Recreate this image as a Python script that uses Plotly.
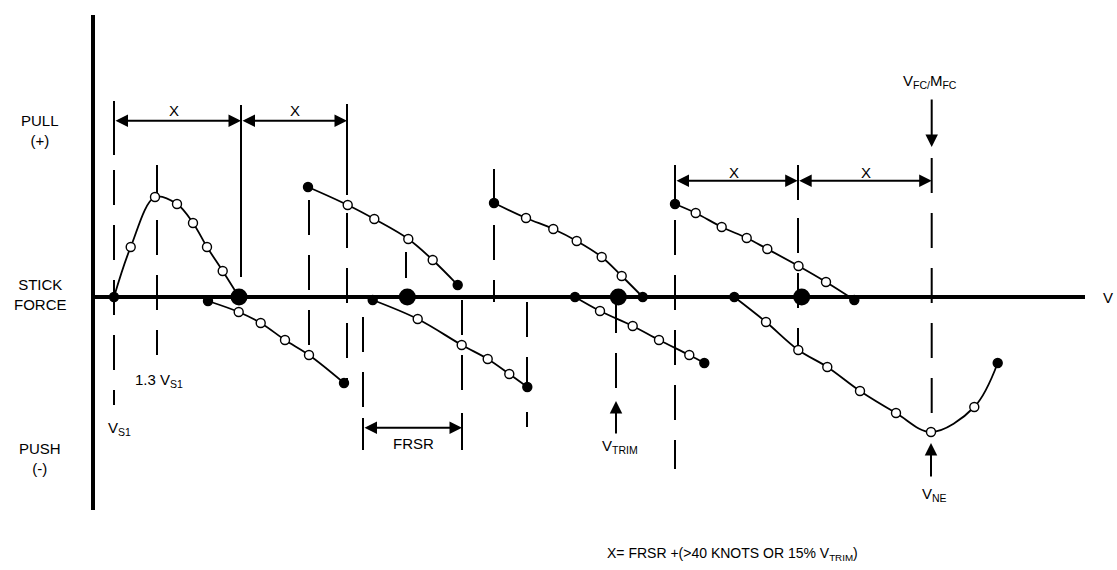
import plotly.graph_objects as go

FONT = "Arial, Liberation Sans, sans-serif"
INK = "black"

# ---- stick-force curves: airspeed (x) vs stick force (+ pull / - push) ----
pull_1_speed = [114, 130.7, 155, 177, 193, 207, 222.7, 239]
pull_1_force = [0, 50, 100, 93, 74, 50, 26, 0]

push_1_speed = [208, 238.7, 260.7, 285, 309, 344]
push_1_force = [-4, -15, -26, -43, -58, -86]

pull_2_speed = [308, 347.7, 374.3, 408.3, 432.7, 457.7]
pull_2_force = [110, 92, 78, 58, 37, 12]

push_2_speed = [372.7, 417.7, 461.7, 487.7, 509.3, 527.3]
push_2_force = [-3, -22, -48, -62, -77, -90]

pull_3_speed = [494, 526, 553.3, 576.7, 601.7, 621.7, 642.7]
pull_3_force = [94, 79, 68, 56, 40, 21, 0]

push_3_speed = [575, 600, 632.7, 659, 689.3, 704.3]
push_3_force = [0, -14, -29, -43, -58, -66]

pull_4_speed = [675, 695.7, 721.7, 746.7, 767.3, 798.5, 826, 854.3]
pull_4_force = [93, 84, 70, 59, 48, 31, 15, -3]

push_4_speed = [734.3, 766, 798.3, 827.3, 860, 896, 931, 974.3, 997.7]
push_4_force = [0, -25, -53, -70, -94, -116, -135, -110, -66]

# trim points (zero stick force)
trim_speed = [239, 407.3, 618.3, 801.7]
trim_force = [0, 0, 0, 0]

# ---- speed reference lines: x, top force, bottom force ----
solid_ref_x = [114, 241, 347, 363, 462, 494, 675, 798, 931.7]
solid_ref_top = [196, 192, 193, -121, -116, 128, 132, 132, 139]
solid_ref_bot = [142, 20, 102, -153, -153, 94, 93, 97, 104]

dashed_ref_x = [114, 157, 309, 347, 406, 363, 462, 494, 527, 616, 675, 798, 931.7]
dashed_ref_top = [127, 132, 97, 84, 45, -20, -3, 72, -5, -1, 77, 79, 84]
dashed_ref_bot = [-108, -58, -48, -88, 19, -111, -103, -5, -130, -91, -172, -53, -116]

# ---- dimension brackets: left speed, right speed, force level ----
bracket_left = [114, 241, 675, 797.7, 363]
bracket_right = [241, 347, 797.7, 931.7, 462]
bracket_level = [176.3, 176.3, 116.3, 116.3, -130.7]

# ---- pointer arrows: x, tail force, tip force ----
pointer_x = [931.7, 616, 931]
pointer_tail = [199, -138, -181]
pointer_tip = [150, -104, -146]

# axes of the diagram
force_axis_x = 93
force_axis_range = [282, -213]
speed_axis_range = [93, 1085]

fig = go.Figure()

for x, t, b in zip(dashed_ref_x, dashed_ref_top, dashed_ref_bot):
    fig.add_trace(go.Scatter(x=[x, x], y=[t, b], mode="lines",
                             line=dict(color=INK, width=2, dash="35px,20px"),
                             hoverinfo="skip"))
for x, t, b in zip(solid_ref_x, solid_ref_top, solid_ref_bot):
    fig.add_trace(go.Scatter(x=[x, x], y=[t, b], mode="lines",
                             line=dict(color=INK, width=2), hoverinfo="skip"))

# main axes
fig.add_trace(go.Scatter(x=[force_axis_x, force_axis_x], y=force_axis_range,
                         mode="lines", line=dict(color=INK, width=4),
                         hoverinfo="skip"))
fig.add_trace(go.Scatter(x=speed_axis_range, y=[0, 0], mode="lines",
                         line=dict(color=INK, width=4), hoverinfo="skip"))

curves = [
    (pull_1_speed, pull_1_force), (push_1_speed, push_1_force),
    (pull_2_speed, pull_2_force), (push_2_speed, push_2_force),
    (pull_3_speed, pull_3_force), (push_3_speed, push_3_force),
    (pull_4_speed, pull_4_force), (push_4_speed, push_4_force),
]
for sx, fy in curves:
    n = len(sx)
    # filled end points, open intermediate test points
    fills = [INK] + ["#ffffff"] * (n - 2) + [INK]
    sizes = [9] + [9] * (n - 2) + [9]
    fig.add_trace(go.Scatter(
        x=sx, y=fy, mode="lines+markers",
        line=dict(color=INK, width=1.8, shape="spline", smoothing=1),
        marker=dict(color=fills, size=sizes, opacity=1,
                    line=dict(color=INK, width=1.4)),
        hoverinfo="skip"))

fig.add_trace(go.Scatter(x=trim_speed, y=trim_force, mode="markers",
                         marker=dict(color=INK, size=17), hoverinfo="skip"))

annotations = []
for xl, xr, lv in zip(bracket_left, bracket_right, bracket_level):
    annotations.append(dict(
        x=xr, y=lv, ax=xl, ay=lv, xref="x", yref="y", axref="x", ayref="y",
        text="", showarrow=True, arrowside="end+start",
        arrowhead=2, startarrowhead=2, arrowsize=1.25, startarrowsize=1.25,
        arrowwidth=2, arrowcolor=INK, standoff=0, startstandoff=0))
for x, tail, tip in zip(pointer_x, pointer_tail, pointer_tip):
    annotations.append(dict(
        x=x, y=tip, ax=x, ay=tail, xref="x", yref="y", axref="x", ayref="y",
        text="", showarrow=True, arrowhead=2, arrowsize=1.25,
        arrowwidth=2, arrowcolor=INK, standoff=0))


def label(text, x, y, xanchor="center", size=15):
    annotations.append(dict(
        x=x, y=y, xref="x", yref="y", text=text, showarrow=False,
        xanchor=xanchor, yanchor="middle",
        font=dict(family=FONT, size=size, color=INK)))


label("X", 173.5, 187)
label("X", 295, 187)
label("X", 734, 125)
label("X", 866, 125)
label("FRSR", 413, -146)
label("PULL<br>(+)", 40, 167)
label("STICK<br>FORCE", 40, 3)
label("PUSH<br>(-)", 40, -161)
label("1.3 V<sub>S1</sub>", 133, -83, xanchor="left")
label("V<sub>S1</sub>", 106, -131, xanchor="left")
label("V<sub>TRIM</sub>", 600, -149, xanchor="left")
label("V<sub>NE</sub>", 920, -197, xanchor="left")
label("V<sub>FC/</sub>M<sub>FC</sub>", 930, 216)
label("V", 1101, 0, xanchor="left")
label("X= FRSR +(>40 KNOTS OR 15% V<sub>TRIM</sub>)", 605, -257,
      xanchor="left", size=14)

fig.update_layout(
    width=1117, height=570,
    margin=dict(l=0, r=0, t=0, b=0),
    paper_bgcolor="white", plot_bgcolor="white",
    showlegend=False,
    xaxis=dict(range=[0, 1117], visible=False, fixedrange=True),
    yaxis=dict(range=[-273, 297], visible=False, fixedrange=True),
    annotations=annotations,
)

fig.write_html("out.html")
